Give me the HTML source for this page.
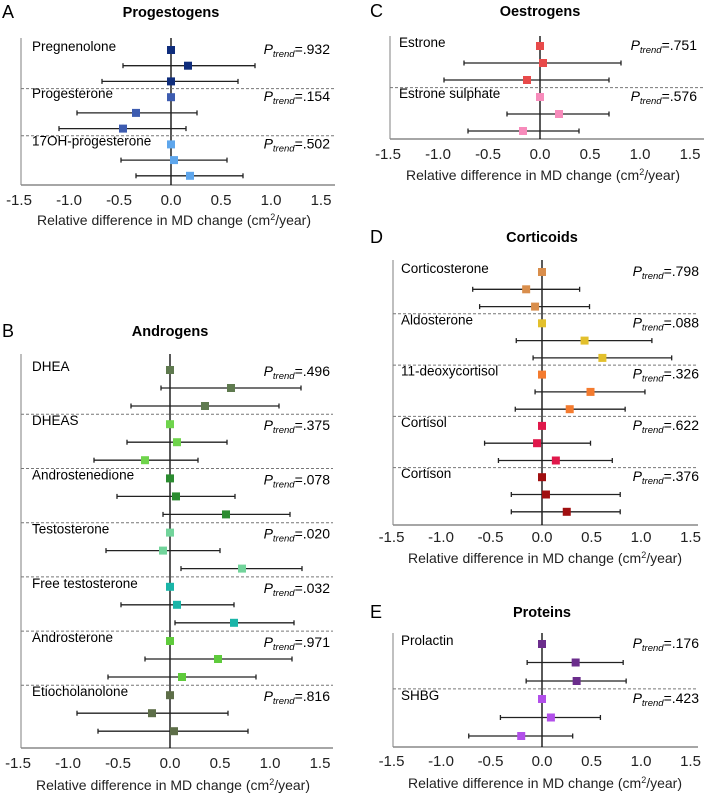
<!DOCTYPE html>
<html><head><meta charset="utf-8">
<style>
html,body{margin:0;padding:0;background:#fff;}
svg{display:block;font-family:"Liberation Sans",Arial,sans-serif;}
</style></head>
<body>
<svg id="chart" width="709" height="793" viewBox="0 0 709 793" xmlns="http://www.w3.org/2000/svg"></svg>
<script>
// ---- Panel A: Progestogens ----
const aGroups = ["Pregnenolone","Progesterone","17OH-progesterone"];
const aPtrend = [".932",".154",".502"];
const aPoint = [[0,0.17,0.0],[0,-0.35,-0.48],[0,0.03,0.19]];
const aLow   = [[null,-0.48,-0.69],[null,-0.94,-1.12],[null,-0.50,-0.35]];
const aHigh  = [[null,0.84,0.67],[null,0.26,0.15],[null,0.56,0.72]];
// ---- Panel B: Androgens ----
const bGroups = ["DHEA","DHEAS","Androstenedione","Testosterone","Free testosterone","Androsterone","Etiocholanolone"];
const bPtrend = [".496",".375",".078",".020",".032",".971",".816"];
const bPoint = [[0,0.61,0.35],[0,0.07,-0.25],[0,0.06,0.56],[0,-0.07,0.72],[0,0.07,0.64],[0,0.48,0.12],[0,-0.18,0.04]];
const bLow   = [[null,-0.09,-0.39],[null,-0.43,-0.76],[null,-0.53,-0.07],[null,-0.64,0.11],[null,-0.49,0.05],[null,-0.25,-0.62],[null,-0.93,-0.72]];
const bHigh  = [[null,1.31,1.09],[null,0.57,0.28],[null,0.65,1.20],[null,0.50,1.32],[null,0.64,1.24],[null,1.22,0.86],[null,0.58,0.78]];
// ---- Panel C: Oestrogens ----
const cGroups = ["Estrone","Estrone sulphate"];
const cPtrend = [".751",".576"];
const cPoint = [[0,0.03,-0.13],[0,0.19,-0.17]];
const cLow   = [[null,-0.76,-0.96],[null,-0.33,-0.72]];
const cHigh  = [[null,0.81,0.69],[null,0.69,0.39]];
// ---- Panel D: Corticoids ----
const dGroups = ["Corticosterone","Aldosterone","11-deoxycortisol","Cortisol","Cortison"];
const dPtrend = [".798",".088",".326",".622",".376"];
const dPoint = [[0,-0.16,-0.07],[0,0.43,0.61],[0,0.49,0.28],[0,-0.05,0.14],[0,0.04,0.25]];
const dLow   = [[null,-0.70,-0.63],[null,-0.26,-0.09],[null,-0.07,-0.27],[null,-0.58,-0.44],[null,-0.31,-0.31]];
const dHigh  = [[null,0.38,0.48],[null,1.11,1.31],[null,1.04,0.84],[null,0.49,0.71],[null,0.79,0.79]];
// ---- Panel E: Proteins ----
const eGroups = ["Prolactin","SHBG"];
const ePtrend = [".176",".423"];
const ePoint = [[0,0.34,0.35],[0,0.09,-0.21]];
const eLow   = [[null,-0.15,-0.16],[null,-0.42,-0.74]];
const eHigh  = [[null,0.82,0.85],[null,0.59,0.31]];
const xTicks = [-1.5,-1.0,-0.5,0.0,0.5,1.0,1.5];
const xTickLabels = ["-1.5","-1.0","-0.5","0.0","0.5","1.0","1.5"];

const svg = document.getElementById('chart');
const NS = "http://www.w3.org/2000/svg";
function mk(tag, attrs, parent){
  const e = document.createElementNS(NS, tag);
  for (const k in attrs) e.setAttribute(k, attrs[k]);
  (parent||svg).appendChild(e);
  return e;
}

function panel(cfg, groups, ptrend, point, low, high, colors){
  const g = mk('g', {});
  
  
  const xs = v => cfg.zero + v * cfg.scale;
  const rowY = (gi, ri) => cfg.row0 + gi * cfg.groupStep + ri * cfg.rowStep;

  const letter = mk('text', {x: cfg.letterX, y: cfg.titleY + 6, 'font-size': 18, fill: '#000'}, g);
  letter.textContent = cfg.letter;
  
  
  const title = mk('text', {x: cfg.zero, y: cfg.titleY + 5, 'font-size': 14.5, 'font-weight': 'bold', 'text-anchor': 'middle', fill: '#000'}, g);
  title.textContent = cfg.title;
  
  

  // axes
  const ya = mk('line', {x1: cfg.axisL, x2: cfg.axisL, y1: cfg.top, y2: cfg.bottom, stroke: '#aaa', 'stroke-width': 1.5}, g);
  
  
  const xa = mk('line', {x1: cfg.axisL, x2: cfg.right, y1: cfg.bottom, y2: cfg.bottom, stroke: '#888', 'stroke-width': 1.5}, g);
  
  
  const zl = mk('line', {x1: xs(0), x2: xs(0), y1: cfg.top, y2: cfg.bottom, stroke: '#000', 'stroke-width': 1.3}, g);
  
  

  xTicks.forEach((t, i) => {
    const tl = mk('text', {x: xs(t) + (t < 0 ? -2 : 0), y: cfg.tickY + 5, 'font-size': 15, 'text-anchor': 'middle', fill: '#222'}, g);
    tl.textContent = xTickLabels[i];
    
    
  });
  const at = mk('text', {x: xs(0) + 3, y: cfg.axisTitleY + 5, 'font-size': 14, 'text-anchor': 'middle', fill: '#222'}, g);
  at.innerHTML = 'Relative difference in MD change (cm<tspan font-size="9" dy="-5">2</tspan><tspan dy="5">/year)</tspan>';
  
  

  groups.forEach((name, gi) => {
    if (gi > 0) {
      const d = mk('line', {x1: cfg.axisL, x2: cfg.right, y1: rowY(gi, 0) - cfg.rowStep * 0.55, y2: rowY(gi, 0) - cfg.rowStep * 0.55, stroke: '#777', 'stroke-width': 1, 'stroke-dasharray': '3,2'}, g);
      
      
    }
    const lb = mk('text', {x: cfg.labelX, y: rowY(gi, 0) + 1, 'font-size': 13.5, fill: '#000'}, g);
    lb.textContent = name;
    
    
    const pt = mk('text', {x: cfg.pX, y: rowY(gi, 0) + 4 + cfg.pOff, 'font-size': 14, 'text-anchor': 'end', fill: '#000'}, g);
    pt.innerHTML = '<tspan font-style="italic">P</tspan><tspan font-style="italic" font-size="9.5" dy="3">trend</tspan><tspan dy="-3">=' + ptrend[gi] + '</tspan>';
    
    

    point[gi].forEach((v, ri) => {
      const y = rowY(gi, ri);
      if (low[gi][ri] !== null) {
        const ci = mk('line', {x1: xs(low[gi][ri]), x2: xs(high[gi][ri]), y1: y, y2: y, stroke: '#222', 'stroke-width': 1.3}, g);
        
        
        [low[gi][ri], high[gi][ri]].forEach(c => {
          const cap = mk('line', {x1: xs(c), x2: xs(c), y1: y - 2.5, y2: y + 2.5, stroke: '#222', 'stroke-width': 1.3}, g);
          
          
        });
      }
      const sq = mk('rect', {x: xs(v) - 4, y: y - 4, width: 8, height: 8, fill: colors[gi]}, g);
      
      
    });
  });
}

panel({key:'progestogens', letter:'A', letterX:2, title:'Progestogens', titleY:12, axisL:21, zero:171, scale:100, right:335,
  top:38, bottom:185, row0:50, rowStep:15.7, groupStep:47.2, tickY:200, axisTitleY:220, labelX:32, pX:330, pOff:0},
  aGroups, aPtrend, aPoint, aLow, aHigh, ['#0f2d7c','#3d5cb0','#5ea6ec']);

panel({key:'androgens', letter:'B', letterX:2, title:'Androgens', titleY:331, axisL:21, zero:170, scale:100, right:333,
  top:354, bottom:748, row0:370, rowStep:18, groupStep:54.2, tickY:763, axisTitleY:785, labelX:32, pX:330, pOff:2},
  bGroups, bPtrend, bPoint, bLow, bHigh, ['#5f7a4f','#6fd44c','#2b8c30','#72d49b','#1ab5a8','#5fcb3c','#5d6e48']);

panel({key:'oestrogens', letter:'C', letterX:370, title:'Oestrogens', titleY:11, axisL:390, zero:540, scale:100, right:704,
  top:36, bottom:139, row0:46, rowStep:17, groupStep:51, tickY:154, axisTitleY:175, labelX:399, pX:697, pOff:0},
  cGroups, cPtrend, cPoint, cLow, cHigh, ['#e84a4a','#f78bbb']);

panel({key:'corticoids', letter:'D', letterX:370, title:'Corticoids', titleY:237, axisL:393, zero:542, scale:99, right:698,
  top:260, bottom:525, row0:272, rowStep:17.3, groupStep:51.3, tickY:537, axisTitleY:558, labelX:401, pX:699, pOff:0},
  dGroups, dPtrend, dPoint, dLow, dHigh, ['#d98e4c','#e3c02c','#f47b2f','#e0184b','#a00f10']);

panel({key:'proteins', letter:'E', letterX:370, title:'Proteins', titleY:612, axisL:393, zero:542, scale:99, right:698,
  top:633, bottom:747, row0:644, rowStep:18.5, groupStep:55, tickY:761, axisTitleY:783, labelX:401, pX:699, pOff:0},
  eGroups, ePtrend, ePoint, eLow, eHigh, ['#6b2d8c','#b24fea']);
</script>
</body></html>
